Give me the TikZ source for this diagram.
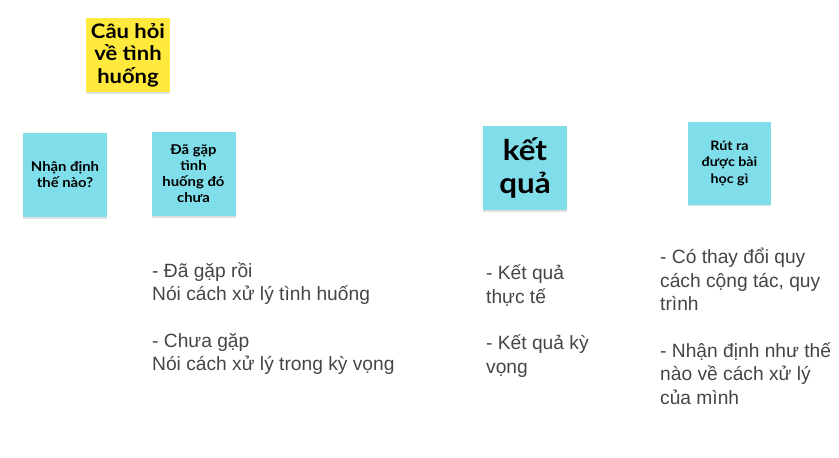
\documentclass[tikz,border=0pt]{standalone}
\usepackage{fontspec}
\setmainfont{Liberation Sans}
\newfontfamily\notefont{Lato}[FakeStretch=1.1]
\definecolor{stickyyellow}{HTML}{FFE93D}
\definecolor{stickycyan}{HTML}{80DEEA}
\definecolor{bodygray}{HTML}{454545}
\tikzset{
  sticky/.style={fill=stickycyan, minimum width=84pt, minimum height=84pt, inner sep=0pt,
    align=center, font=\notefont\bfseries\fontsize{13.5}{16}\selectfont},
  shadowbox/.style={fill=black!12, minimum width=84pt, minimum height=84pt, inner sep=0pt},
  bullets/.style={anchor=north west, inner sep=0pt, align=left, text=bodygray,
    font=\fontsize{19.2}{23.5}\selectfont}
}
\begin{document}
\begin{tikzpicture}[x=1pt,y=-1pt]
        \useasboundingbox (0,0) rectangle (839,458);

        \node (qshadow) at (128,56.5) [shadowbox, minimum height=74pt] {};
        \node (question) at (128,55) [sticky, fill=stickyyellow, minimum height=74pt,
          font=\notefont\bfseries\fontsize{20}{22.5}\selectfont] {Câu hỏi\\về tình\\huống};

        \node (judgeshadow) at (65,176.5) [shadowbox] {};
        \node (judge) at (65,175) [sticky] {Nhận định\\thế nào?};

        \node (metshadow) at (193.5,175.5) [shadowbox] {};
        \node (met) at (193.5,174) [sticky] {Đã gặp\\tình\\huống đó\\chưa};

        \node (resultshadow) at (525,169.5) [shadowbox] {};
        \node (result) at (525,168) [sticky, font=\notefont\bfseries\fontsize{28.5}{33}\selectfont] {kết\\quả};

        \node (lessonshadow) at (729.5,164.5) [shadowbox, minimum width=83pt, minimum height=83pt] {};
        \node (lesson) at (729.5,163) [sticky, minimum width=83pt, minimum height=83pt,
          font=\notefont\bfseries\fontsize{13}{16.5}\selectfont] {Rút ra\\được bài\\học gì};

        \node (metnotes) at (152,262.5) [bullets] {- Đã gặp rồi\\Nói cách xử lý tình huống\\[23pt]- Chưa gặp\\Nói cách xử lý trong kỳ vọng};
        \node (resultnotes) at (486,265) [bullets] {- Kết quả\\thực tế\\[23pt]- Kết quả kỳ\\vọng};
        \node (lessonnotes) at (660,248) [bullets] {- Có thay đổi quy\\cách cộng tác, quy\\trình\\[23pt]- Nhận định như thế\\nào về cách xử lý\\của mình};
\end{tikzpicture}
\end{document}
